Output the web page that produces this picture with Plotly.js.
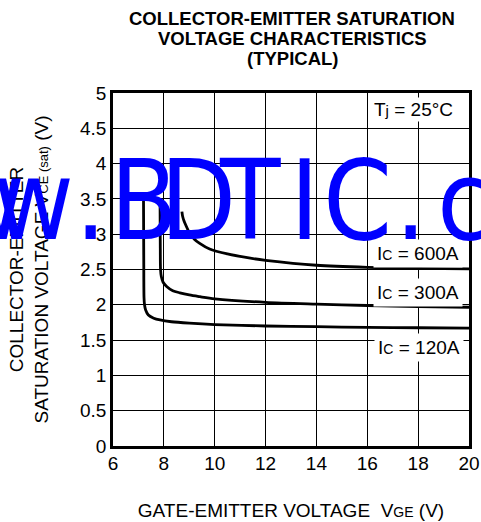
<!DOCTYPE html>
<html>
<head>
<meta charset="utf-8">
<script src="https://cdn.plot.ly/plotly-3.0.1.min.js"></script>
<style>html,body{margin:0;padding:0;background:#fff;}#chart{width:481px;height:522px;}</style>
</head>
<body>
<div id="chart"></div>
<script>
// ---- data ----
const vge120 = [7.20, 7.21, 7.22, 7.24, 7.28, 7.39, 7.60, 7.85, 8.30, 9.00, 10, 12, 14, 16, 18, 20];
const vce120 = [3.50, 2.60, 2.10, 2.00, 1.93, 1.855, 1.81, 1.785, 1.76, 1.74, 1.72, 1.70, 1.69, 1.68, 1.675, 1.67];

const vge300 = [7.85, 7.86, 7.87, 7.90, 7.97, 8.11, 8.35, 8.63, 9.00, 9.42, 10, 12, 14, 16, 18, 20];
const vce300 = [3.50, 2.80, 2.50, 2.40, 2.32, 2.26, 2.20, 2.17, 2.14, 2.115, 2.085, 2.035, 2.01, 1.99, 1.975, 1.965];

const vge600 = [8.71, 8.74, 8.79, 8.86, 9.02, 9.20, 9.41, 9.80, 10.5, 11.4, 12, 14, 16, 18, 20];
const vce600 = [3.32, 3.25, 3.19, 3.13, 3.01, 2.93, 2.87, 2.79, 2.72, 2.66, 2.63, 2.56, 2.53, 2.515, 2.51];

const xTicks = [6, 8, 10, 12, 14, 16, 18, 20];
const yTicks = [0, 0.5, 1, 1.5, 2, 2.5, 3, 3.5, 4, 4.5, 5];
const yTickText = ['0', '0.5', '1', '1.5', '2', '2.5', '3', '3.5', '4', '4.5', '5'];

const titleLines = ['COLLECTOR-EMITTER SATURATION', 'VOLTAGE CHARACTERISTICS', '(TYPICAL)'];
const curveLabels = ['I<span style="font-size:14px">C</span> = 600A', 'I<span style="font-size:14px">C</span> = 300A', 'I<span style="font-size:14px">C</span> = 120A'];
const watermarkChars = ['w', 'w', '.', 'B', 'D', 'T', 'I', 'C', '.', 'c'];

// ---- layout geometry (pixels) ----
const L = 113, R = 469, T = 93, B = 446;
const px2x = p => (p - L) / (R - L);
const px2y = p => (B - p) / (B - T);

const FONT = 'Liberation Sans, Arial, Helvetica, sans-serif';
const line = {color: '#000', width: 2.8, shape: 'spline', smoothing: 0.8};

const traces = [
  {x: vge120, y: vce120, mode: 'lines', line: line, name: 'IC = 120A', hoverinfo: 'x+y'},
  {x: vge300, y: vce300, mode: 'lines', line: line, name: 'IC = 300A', hoverinfo: 'x+y'},
  {x: vge600, y: vce600, mode: 'lines', line: line, name: 'IC = 600A', hoverinfo: 'x+y'}
];

const annotations = [];
// title lines
const titleY = [18.5, 38.5, 58.5];
titleLines.forEach((t, i) => annotations.push({
  text: '<b>' + t + '</b>', xref: 'paper', yref: 'paper', x: px2x(292), y: px2y(titleY[i]),
  xanchor: 'center', yanchor: 'middle', showarrow: false,
  font: {family: FONT, size: 18.5, color: '#000'}
}));
// Tj label
annotations.push({
  text: 'T<span style="font-size:15px">j</span> = 25°C', xref: 'paper', yref: 'paper',
  x: px2x(413.5), y: px2y(110), xanchor: 'center', yanchor: 'middle', showarrow: false,
  bgcolor: '#fff', borderpad: 1, font: {family: FONT, size: 19, color: '#000'}
});
// curve labels
const labelPos = [[417.5, 253], [417.5, 292.5], [419, 347.5]];
curveLabels.forEach((t, i) => annotations.push({
  text: t, xref: 'paper', yref: 'paper', x: px2x(labelPos[i][0]), y: px2y(labelPos[i][1]),
  xanchor: 'center', yanchor: 'middle', showarrow: false, bgcolor: '#fff', borderpad: 3,
  font: {family: FONT, size: 19, color: '#000'}
}));
// watermark (drawn on top)
const wmX = [-16, 33, 90.5, 143.5, 198, 249.5, 304, 357, 410, 463.5];
watermarkChars.forEach((c, i) => annotations.push({
  text: c, xref: 'paper', yref: 'paper', x: px2x(wmX[i]), y: px2y(201),
  xanchor: 'center', yanchor: 'middle', showarrow: false,
  font: {family: 'DejaVu Sans Condensed, Liberation Sans Narrow, DejaVu Sans Mono, sans-serif', size: 110, color: '#0000ff'}
}));

const layout = {
  width: 481, height: 522,
  margin: {l: L, r: 481 - R, t: T, b: 522 - B, pad: 0},
  paper_bgcolor: '#fff', plot_bgcolor: '#fff',
  showlegend: false,
  font: {family: FONT, size: 19, color: '#000'},
  xaxis: {
    range: [6, 20], tickvals: xTicks, ticktext: xTicks.map(String),
    showgrid: true, gridcolor: '#000', gridwidth: 1, zeroline: false,
    showline: true, linecolor: '#000', linewidth: 2.8, mirror: true,
    ticks: '', ticklabelstandoff: -2, tickfont: {family: FONT, size: 19, color: '#000'},
    title: {text: 'GATE-EMITTER VOLTAGE\u00a0\u00a0V<span style="font-size:14px">GE</span> (V)',
            font: {family: FONT, size: 19, color: '#000'}, standoff: 32}
  },
  yaxis: {
    range: [0, 5], tickvals: yTicks, ticktext: yTickText,
    showgrid: true, gridcolor: '#000', gridwidth: 1, zeroline: false,
    showline: true, linecolor: '#000', linewidth: 2.8, mirror: true,
    ticks: '', ticklabelstandoff: 0, tickfont: {family: FONT, size: 19, color: '#000'},
    title: {text: 'COLLECTOR-EMITTER<br>SATURATION VOLTAGE V<span style="font-size:13px">CE (sat)</span> (V)',
            font: {family: FONT, size: 19, color: '#000'}, standoff: 27}
  },
  annotations: annotations
};

Plotly.newPlot('chart', traces, layout, {staticPlot: true, displayModeBar: false});
</script>
</body>
</html>
